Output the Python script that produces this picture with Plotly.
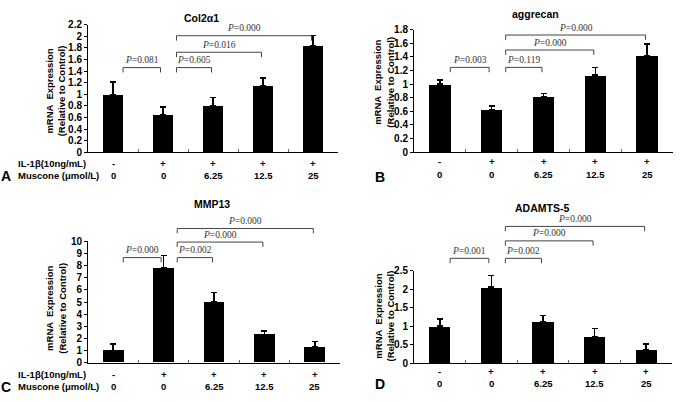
import plotly.graph_objects as go

W, H = 685, 402

groups = [0, 1, 2, 3, 4]
il1b_labels = ["-", "+", "+", "+", "+"]
muscone_labels = ["0", "0", "6.25", "12.5", "25"]

col2_mean = [1.00, 0.64, 0.80, 1.15, 1.83]
col2_err = [0.21, 0.14, 0.145, 0.13, 0.18]
agg_mean = [1.00, 0.63, 0.81, 1.13, 1.42]
agg_err = [0.06, 0.05, 0.05, 0.11, 0.17]
mmp_mean = [1.0, 7.8, 5.0, 2.3, 1.3]
mmp_err = [0.55, 1.03, 0.8, 0.3, 0.45]
adam_mean = [1.0, 2.05, 1.13, 0.72, 0.37]
adam_err = [0.2, 0.32, 0.16, 0.22, 0.15]

comparisons = [(0, 1), (1, 2), (1, 3), (1, 4)]
col2_p = ["0.081", "0.605", "0.016", "0.000"]
col2_level = [1.46, 1.46, 1.725, 2.01]
agg_p = ["0.003", "0.119", "0.000", "0.000"]
agg_level = [1.245, 1.245, 1.50, 1.72]
mmp_p = ["0.000", "0.002", "0.000", "0.000"]
mmp_level = [8.67, 8.67, 9.95, 11.07]
adam_p = ["0.001", "0.002", "0.000", "0.000"]
adam_level = [2.83, 2.83, 3.30, 3.69]

SANS = "Liberation Sans, Arial, sans-serif"
SERIF = "Liberation Serif, Times New Roman, serif"

fig = go.Figure()
shapes = []
annotations = []


def px_x(p):
    return p / W


def px_y(p):
    return 1 - p / H


def panel(idx, mean, err, title, pvals, levels, xdom, ydom, ymax, dtick,
          letter, letter_pos, title_pos, ytitle_pos, row_y, row_labels_x=None):
    xa = "x" if idx == 1 else f"x{idx}"
    ya = "y" if idx == 1 else f"y{idx}"
    xkey = "xaxis" if idx == 1 else f"xaxis{idx}"
    ykey = "yaxis" if idx == 1 else f"yaxis{idx}"
    y0p, y1p = px_y(ydom[1]), px_y(ydom[0])

    def yconv(v):
        return y0p + v / ymax * (y1p - y0p)

    fig.add_trace(go.Bar(
        x=groups, y=mean, width=0.41, marker_color="black", marker_line_width=0,
        error_y=dict(type="data", array=err, arrayminus=[0] * len(err), symmetric=False,
                     color="black", thickness=1.5, width=3),
        xaxis=xa, yaxis=ya, showlegend=False, hoverinfo="skip"))

    fig.update_layout(**{
        xkey: dict(domain=[px_x(xdom[0]), px_x(xdom[1])], range=[-0.5, 4.5],
                   showline=True, linecolor="black", linewidth=1,
                   tickvals=[0.5, 1.5, 2.5, 3.5], ticktext=[""] * 4,
                   ticks="inside", ticklen=3, tickcolor="#666",
                   showgrid=False, zeroline=False, anchor=ya, fixedrange=True),
        ykey: dict(domain=[y0p, y1p], range=[0, ymax], tick0=0, dtick=dtick,
                   showline=True, linecolor="black", linewidth=1,
                   ticks="outside", ticklen=3, tickcolor="black",
                   tickfont=dict(family=SANS, size=10, color="black", weight="bold"),
                   showgrid=False, zeroline=False, anchor=xa, fixedrange=True),
    })

    leg = 5 / H
    for (a, b), p, lv in zip(comparisons, pvals, levels):
        xs = a + 0.2 if a == 0 else a + 0.27
        xe = b - 0.05 if a == 0 else b - 0.03
        yt = yconv(lv)
        shapes.append(dict(type="path", xref=xa, yref="paper",
                           path=f"M {xs},{yt - leg} L {xs},{yt} L {xe},{yt} L {xe},{yt - leg}",
                           line=dict(color="#444", width=1)))
        annotations.append(dict(x=(xs + xe) / 2, y=yt + 0.5 / H, xref=xa, yref="paper",
                                text=f"<i>P</i>={p}", showarrow=False,
                                yanchor="bottom", xanchor="center",
                                font=dict(family=SERIF, size=9.5, color="#333")))

    annotations.append(dict(x=px_x(title_pos[0]), y=px_y(title_pos[1]), xref="paper", yref="paper",
                            text=title, showarrow=False, xanchor="center", yanchor="middle",
                            font=dict(family=SANS, size=10.5, color="black", weight="bold")))
    annotations.append(dict(x=px_x(ytitle_pos[0]), y=px_y(ytitle_pos[1]), xref="paper", yref="paper",
                            text="mRNA  Expression<br>(Relative to Control)", showarrow=False,
                            textangle=-90, xanchor="center", yanchor="middle",
                            font=dict(family=SANS, size=9.5, color="black", weight="bold")))
    for i in groups:
        annotations.append(dict(x=i, y=px_y(row_y[0]), xref=xa, yref="paper",
                                text=il1b_labels[i], showarrow=False, xanchor="center", yanchor="middle",
                                font=dict(family=SANS, size=9.5, color="black", weight="bold")))
        annotations.append(dict(x=i, y=px_y(row_y[1]), xref=xa, yref="paper",
                                text=muscone_labels[i], showarrow=False, xanchor="center", yanchor="middle",
                                font=dict(family=SANS, size=9.5, color="black", weight="bold")))
    if row_labels_x is not None:
        annotations.append(dict(x=px_x(row_labels_x), y=px_y(row_y[0]), xref="paper", yref="paper",
                                text="IL-1β(10ng/mL)", showarrow=False, xanchor="left", yanchor="middle",
                                font=dict(family=SANS, size=9.5, color="black", weight="bold")))
        annotations.append(dict(x=px_x(row_labels_x), y=px_y(row_y[1]), xref="paper", yref="paper",
                                text="Muscone (μmol/L)", showarrow=False, xanchor="left", yanchor="middle",
                                font=dict(family=SANS, size=9.5, color="black", weight="bold")))
    annotations.append(dict(x=px_x(letter_pos[0]), y=px_y(letter_pos[1]), xref="paper", yref="paper",
                            text=letter, showarrow=False, xanchor="center", yanchor="middle",
                            font=dict(family=SANS, size=14, color="black", weight="bold")))


panel(1, col2_mean, col2_err, "Col2α1", col2_p, col2_level, (88, 338), (19.3, 150.7), 2.2, 0.2,
      "A", (6, 175.5), (201, 12.5), (55, 88), (162.7, 175.2), row_labels_x=16)
panel(2, agg_mean, agg_err, "aggrecan", agg_p, agg_level, (414, 673), (24.3, 150.7), 1.8, 0.2,
      "B", (380, 176), (535, 8.5), (384, 79), (160.5, 173.5))
panel(3, mmp_mean, mmp_err, "MMP13", mmp_p, mmp_level, (88, 340), (242.7, 367.7), 10, 1,
      "C", (6, 392.5), (212, 204.5), (56, 312), (380, 392.7), row_labels_x=16)
panel(4, adam_mean, adam_err, "ADAMTS-5", adam_p, adam_level, (414, 672), (272.7, 368.3), 2.5, 0.5,
      "D", (380, 389.5), (542, 208.5), (384, 320), (377, 389.5))

fig.update_layout(width=W, height=H, margin=dict(l=0, r=0, t=0, b=0),
                  paper_bgcolor="white", plot_bgcolor="white",
                  shapes=shapes, annotations=annotations, bargap=0, showlegend=False)

fig.write_html("out.html", config={"displayModeBar": False},
               post_script="document.body.style.margin='0';document.body.style.overflow='hidden';")
